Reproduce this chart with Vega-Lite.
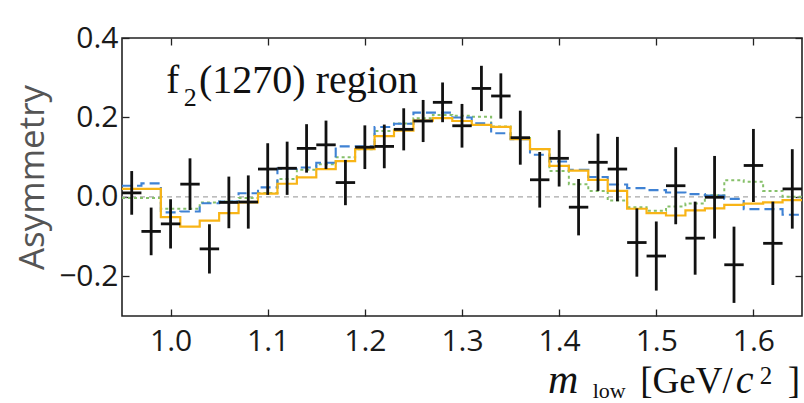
{
  "$schema": "https://vega.github.io/schema/vega-lite/v6.json",
  "width": 680,
  "height": 278,
  "autosize": "none",
  "padding": {"left": 122, "top": 38, "right": 2, "bottom": 87},
  "background": "white",
  "data": {"values": [{"anchor": 1}]},
  "config": {
    "view": {"stroke": "#222", "strokeWidth": 1.6},
    "axis": {
      "domain": false, "grid": false, "tickColor": "#222", "tickWidth": 1.3, "tickSize": -7,
      "labelFont": "Open Sans", "labelFontSize": 30, "labelColor": "#1a1a1a",
      "titleFont": "Open Sans"
    }
  },
  "datasets": {
    "points": [
      {"m": 0.96, "a": 0.010, "err": 0.055, "bin": 0.01},
      {"m": 0.98, "a": -0.087, "err": 0.060, "bin": 0.01},
      {"m": 1.00, "a": -0.068, "err": 0.062, "bin": 0.01},
      {"m": 1.02, "a": 0.032, "err": 0.065, "bin": 0.01},
      {"m": 1.04, "a": -0.131, "err": 0.062, "bin": 0.01},
      {"m": 1.06, "a": -0.014, "err": 0.065, "bin": 0.01},
      {"m": 1.08, "a": -0.013, "err": 0.067, "bin": 0.01},
      {"m": 1.10, "a": 0.070, "err": 0.065, "bin": 0.01},
      {"m": 1.12, "a": 0.072, "err": 0.067, "bin": 0.01},
      {"m": 1.14, "a": 0.122, "err": 0.061, "bin": 0.01},
      {"m": 1.16, "a": 0.131, "err": 0.061, "bin": 0.01},
      {"m": 1.18, "a": 0.036, "err": 0.057, "bin": 0.01},
      {"m": 1.20, "a": 0.125, "err": 0.055, "bin": 0.01},
      {"m": 1.22, "a": 0.127, "err": 0.055, "bin": 0.01},
      {"m": 1.24, "a": 0.170, "err": 0.053, "bin": 0.01},
      {"m": 1.26, "a": 0.191, "err": 0.053, "bin": 0.01},
      {"m": 1.28, "a": 0.238, "err": 0.050, "bin": 0.01},
      {"m": 1.30, "a": 0.179, "err": 0.055, "bin": 0.01},
      {"m": 1.32, "a": 0.273, "err": 0.057, "bin": 0.01},
      {"m": 1.34, "a": 0.254, "err": 0.057, "bin": 0.01},
      {"m": 1.36, "a": 0.149, "err": 0.068, "bin": 0.01},
      {"m": 1.38, "a": 0.043, "err": 0.070, "bin": 0.01},
      {"m": 1.40, "a": 0.097, "err": 0.071, "bin": 0.01},
      {"m": 1.42, "a": -0.026, "err": 0.071, "bin": 0.01},
      {"m": 1.44, "a": 0.087, "err": 0.072, "bin": 0.01},
      {"m": 1.46, "a": 0.070, "err": 0.081, "bin": 0.01},
      {"m": 1.48, "a": -0.115, "err": 0.086, "bin": 0.01},
      {"m": 1.50, "a": -0.149, "err": 0.087, "bin": 0.01},
      {"m": 1.52, "a": 0.028, "err": 0.097, "bin": 0.01},
      {"m": 1.54, "a": -0.104, "err": 0.092, "bin": 0.01},
      {"m": 1.56, "a": -0.001, "err": 0.104, "bin": 0.01},
      {"m": 1.58, "a": -0.171, "err": 0.096, "bin": 0.01},
      {"m": 1.60, "a": 0.079, "err": 0.092, "bin": 0.01},
      {"m": 1.62, "a": -0.117, "err": 0.105, "bin": 0.01},
      {"m": 1.64, "a": 0.020, "err": 0.100, "bin": 0.01}
    ],
    "model": [
      {"edge": 0.95, "orange": 0.020, "blue": 0.028, "green": -0.003},
      {"edge": 0.97, "orange": 0.020, "blue": 0.034, "green": -0.003},
      {"edge": 0.99, "orange": -0.051, "blue": -0.039, "green": -0.030},
      {"edge": 1.01, "orange": -0.075, "blue": -0.037, "green": -0.030},
      {"edge": 1.03, "orange": -0.060, "blue": -0.016, "green": -0.014},
      {"edge": 1.05, "orange": -0.041, "blue": -0.012, "green": -0.012},
      {"edge": 1.07, "orange": -0.014, "blue": 0.009, "green": -0.003},
      {"edge": 1.09, "orange": 0.008, "blue": 0.024, "green": 0.010},
      {"edge": 1.11, "orange": 0.033, "blue": 0.071, "green": 0.045},
      {"edge": 1.13, "orange": 0.049, "blue": 0.074, "green": 0.068},
      {"edge": 1.15, "orange": 0.070, "blue": 0.086, "green": 0.082},
      {"edge": 1.17, "orange": 0.090, "blue": 0.127, "green": 0.100},
      {"edge": 1.19, "orange": 0.120, "blue": 0.127, "green": 0.120},
      {"edge": 1.21, "orange": 0.153, "blue": 0.176, "green": 0.166},
      {"edge": 1.23, "orange": 0.167, "blue": 0.184, "green": 0.185},
      {"edge": 1.25, "orange": 0.192, "blue": 0.212, "green": 0.198},
      {"edge": 1.27, "orange": 0.198, "blue": 0.212, "green": 0.206},
      {"edge": 1.29, "orange": 0.191, "blue": 0.200, "green": 0.204},
      {"edge": 1.31, "orange": 0.181, "blue": 0.185, "green": 0.202},
      {"edge": 1.33, "orange": 0.176, "blue": 0.160, "green": 0.177},
      {"edge": 1.35, "orange": 0.145, "blue": 0.145, "green": 0.148},
      {"edge": 1.37, "orange": 0.120, "blue": 0.106, "green": 0.120},
      {"edge": 1.39, "orange": 0.078, "blue": 0.089, "green": 0.065},
      {"edge": 1.41, "orange": 0.066, "blue": 0.068, "green": 0.032},
      {"edge": 1.43, "orange": 0.043, "blue": 0.050, "green": 0.015},
      {"edge": 1.45, "orange": 0.015, "blue": 0.031, "green": -0.009},
      {"edge": 1.47, "orange": -0.030, "blue": 0.022, "green": -0.026},
      {"edge": 1.49, "orange": -0.041, "blue": 0.017, "green": -0.035},
      {"edge": 1.51, "orange": -0.047, "blue": 0.011, "green": -0.024},
      {"edge": 1.53, "orange": -0.034, "blue": 0.007, "green": -0.017},
      {"edge": 1.55, "orange": -0.029, "blue": 0.003, "green": 0.004},
      {"edge": 1.57, "orange": -0.020, "blue": -0.005, "green": 0.042},
      {"edge": 1.59, "orange": -0.017, "blue": -0.031, "green": 0.038},
      {"edge": 1.61, "orange": -0.014, "blue": -0.031, "green": 0.015},
      {"edge": 1.63, "orange": -0.008, "blue": -0.045, "green": 0.000},
      {"edge": 1.65, "orange": -0.008, "blue": -0.045, "green": 0.000}
    ]
  },
  "resolve": {"axis": {"x": "independent", "y": "independent"}},
  "layer": [
    {
      "mark": {"type": "rule", "color": "#a8a8a8", "strokeDash": [5, 4], "strokeWidth": 1.1},
      "encoding": {
        "y": {"datum": 0, "type": "quantitative", "axis": null}
      }
    },
    {
      "data": {"name": "model"},
      "transform": [{"fold": ["green", "blue", "orange"], "as": ["model", "v"]}],
      "mark": {"type": "line", "interpolate": "step-after", "clip": true},
      "encoding": {
        "x": {
          "field": "edge", "type": "quantitative",
          "scale": {"domain": [0.95, 1.65], "nice": false, "zero": false},
          "axis": {"orient": "bottom", "values": [1.0, 1.1, 1.2, 1.3, 1.4, 1.5, 1.6], "format": ".1f", "title": null, "labelPadding": 17}
        },
        "y": {
          "field": "v", "type": "quantitative",
          "scale": {"domain": [-0.3, 0.4], "nice": false, "zero": false},
          "axis": {
            "orient": "left", "values": [-0.2, 0.0, 0.2, 0.4], "format": ".1f", "labelPadding": 11,
            "title": "Asymmetry", "titleFontSize": 35, "titleFontWeight": "normal", "titleColor": "#555",
            "titleAngle": -90, "titleAlign": "center", "titleBaseline": "alphabetic", "titleX": -79, "titleY": 139
          }
        },
        "color": {
          "field": "model", "type": "nominal", "legend": null,
          "scale": {"domain": ["green", "blue", "orange"], "range": ["#86c06a", "#3f82d4", "#f8b416"]}
        },
        "strokeDash": {
          "field": "model", "type": "nominal", "legend": null,
          "scale": {"domain": ["green", "blue", "orange"], "range": [[3, 3], [10, 5], [1, 0]]}
        },
        "strokeWidth": {
          "field": "model", "type": "nominal", "legend": null,
          "scale": {"domain": ["green", "blue", "orange"], "range": [2, 2.2, 2.6]}
        },
        "order": {"field": "model", "sort": "descending"}
      }
    },
    {
      "data": {"name": "points"},
      "mark": {"type": "errorbar", "ticks": false, "thickness": 2.8, "color": "#111"},
      "encoding": {
        "x": {"field": "m", "type": "quantitative", "axis": null},
        "y": {"field": "a", "type": "quantitative", "axis": null},
        "yError": {"field": "err"}
      }
    },
    {
      "data": {"name": "points"},
      "mark": {"type": "errorbar", "ticks": false, "thickness": 2.8, "color": "#111"},
      "encoding": {
        "x": {"field": "m", "type": "quantitative", "axis": null},
        "xError": {"field": "bin"},
        "y": {"field": "a", "type": "quantitative", "axis": null}
      }
    },
    {
      "data": {"name": "points"},
      "mark": {"type": "point", "opacity": 0},
      "encoding": {
        "x": {"field": "m", "type": "quantitative", "axis": {"orient": "top", "values": [1.0, 1.1, 1.2, 1.3, 1.4, 1.5, 1.6], "labels": false, "title": null}},
        "y": {"field": "a", "type": "quantitative", "axis": {"orient": "right", "values": [-0.2, 0.0, 0.2, 0.4], "labels": false, "title": null}}
      }
    },
    {
      "mark": {"type": "text", "font": "Liberation Serif", "fontSize": 39, "align": "left", "baseline": "alphabetic", "color": "#111"},
      "encoding": {
        "x": {"datum": 0.9955, "type": "quantitative", "axis": null},
        "y": {"datum": 0.2615, "type": "quantitative", "axis": null},
        "text": {"value": "f"}
      }
    },
    {
      "mark": {"type": "text", "font": "Liberation Serif", "fontSize": 26, "align": "left", "baseline": "alphabetic", "color": "#111"},
      "encoding": {
        "x": {"datum": 1.0135, "type": "quantitative", "axis": null},
        "y": {"datum": 0.229, "type": "quantitative", "axis": null},
        "text": {"value": "2"}
      }
    },
    {
      "mark": {"type": "text", "font": "Liberation Serif", "fontSize": 40, "align": "left", "baseline": "alphabetic", "color": "#111"},
      "encoding": {
        "x": {"datum": 1.0293, "type": "quantitative", "axis": null},
        "y": {"datum": 0.2615, "type": "quantitative", "axis": null},
        "text": {"value": "(1270) region"}
      }
    },
    {
      "mark": {"type": "text", "font": "Liberation Serif", "fontStyle": "italic", "fontSize": 42, "align": "left", "baseline": "alphabetic", "color": "#111"},
      "encoding": {
        "x": {"datum": 1.3885, "type": "quantitative", "axis": null},
        "y": {"datum": -0.494, "type": "quantitative", "axis": null},
        "text": {"value": "m"}
      }
    },
    {
      "mark": {"type": "text", "font": "Liberation Serif", "fontSize": 22, "align": "left", "baseline": "alphabetic", "color": "#111"},
      "encoding": {
        "x": {"datum": 1.4345, "type": "quantitative", "axis": null},
        "y": {"datum": -0.506, "type": "quantitative", "axis": null},
        "text": {"value": "low"}
      }
    },
    {
      "mark": {"type": "text", "font": "Liberation Serif", "fontSize": 37, "align": "left", "baseline": "alphabetic", "color": "#111"},
      "encoding": {
        "x": {"datum": 1.4835, "type": "quantitative", "axis": null},
        "y": {"datum": -0.494, "type": "quantitative", "axis": null},
        "text": {"value": "[GeV/"}
      }
    },
    {
      "mark": {"type": "text", "font": "Liberation Serif", "fontStyle": "italic", "fontSize": 40, "align": "left", "baseline": "alphabetic", "color": "#111"},
      "encoding": {
        "x": {"datum": 1.5817, "type": "quantitative", "axis": null},
        "y": {"datum": -0.494, "type": "quantitative", "axis": null},
        "text": {"value": "c"}
      }
    },
    {
      "mark": {"type": "text", "font": "Liberation Serif", "fontSize": 25, "align": "left", "baseline": "alphabetic", "color": "#111"},
      "encoding": {
        "x": {"datum": 1.6065, "type": "quantitative", "axis": null},
        "y": {"datum": -0.472, "type": "quantitative", "axis": null},
        "text": {"value": "2"}
      }
    },
    {
      "mark": {"type": "text", "font": "Liberation Serif", "fontSize": 37, "align": "right", "baseline": "alphabetic", "color": "#111"},
      "encoding": {
        "x": {"datum": 1.648, "type": "quantitative", "axis": null},
        "y": {"datum": -0.494, "type": "quantitative", "axis": null},
        "text": {"value": "]"}
      }
    }
  ]
}
